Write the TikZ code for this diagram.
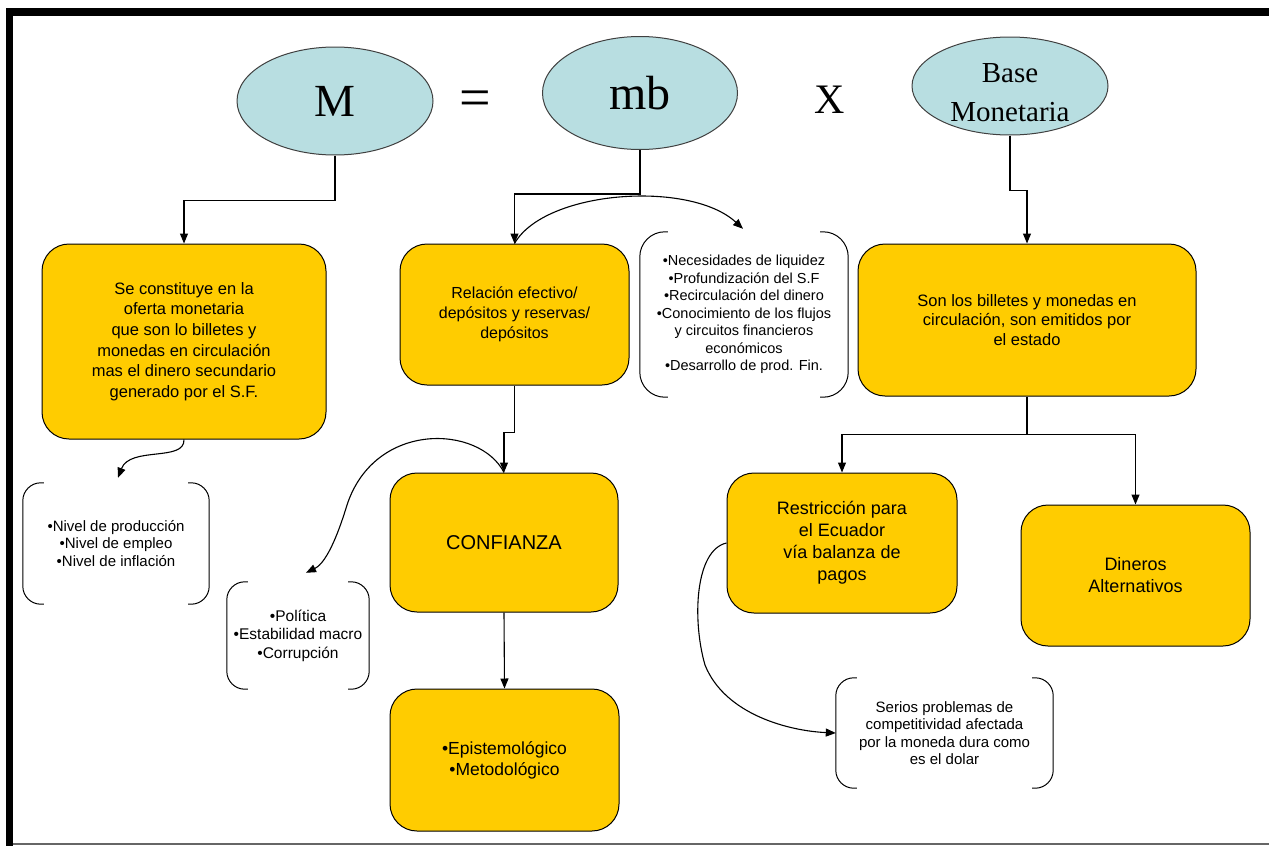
\documentclass[tikz,border=0pt]{standalone}
\usepackage{fontspec}
\setmainfont{Liberation Serif}
\newfontfamily\arial{Liberation Sans}
\usetikzlibrary{shapes.geometric,arrows.meta}
\definecolor{ovalfill}{RGB}{184,222,225}
\definecolor{boxfill}{RGB}{255,204,0}
\newcommand{\fs}[2]{\fontsize{#1}{#2}\selectfont}
\tikzset{
  oval/.style={ellipse, draw=black!75, fill=ovalfill, line width=1pt, inner sep=0pt, align=center},
  obox/.style={rectangle, rounded corners=27pt, draw=black, fill=boxfill, line width=1pt,
               align=center, inner sep=0pt, text=black},
  bracketbox/.style={rectangle, align=center, inner sep=0pt, text=black},
  brk/.style={line width=1pt, rounded corners=#1},
  brk/.default=18pt,
  conn/.style={line width=1.1pt},
  arr/.style={conn, -{Triangle[length=10pt,width=8pt]}},
  sym/.style={inner sep=0pt, align=center}
}
\newcommand{\brackets}[2]{%
  \draw[brk=#2] ([xshift=#2+3pt]#1.north west) -- (#1.north west) -- (#1.south west) -- ([xshift=#2+3pt]#1.south west);
  \draw[brk=#2] ([xshift=-#2-3pt]#1.north east) -- (#1.north east) -- (#1.south east) -- ([xshift=-#2-3pt]#1.south east);
}
\begin{document}
\begin{tikzpicture}[x=1pt,y=-1pt]
\useasboundingbox (0,0) rectangle (1269,846);
\fill[white] (0,0) rectangle (1269,846);
% frame
\fill[black] (6,8) rectangle (1269,16);
\fill[black] (6,8) rectangle (13,846);
\draw[black!60, line width=1.2pt] (13,844) -- (1269,844);

% equation ovals
\node[oval, minimum width=196pt, minimum height=108pt, font=\fs{46}{50}] (M) at (335,101) {M};
\node[sym, font=\fs{56}{60}] (eq) at (475,104) {=};
\node[oval, minimum width=195pt, minimum height=113pt, font=\fs{48}{52}] (mb) at (640,93) {mb};
\node[sym, font=\fs{42}{46}] (times) at (830,100) {X};
\node[oval, minimum width=196pt, minimum height=98pt] (base) at (1010,86) {};
\node[sym, font=\fs{29}{39}] (basetext) at (1010,93) {Base\\Monetaria};

% boxes
\node[obox, minimum width=284pt, minimum height=195pt, font=\arial\fs{16.5}{20.6}] (b1) at (184,341.5)
  {Se constituye en la\\oferta monetaria\\que son lo billetes y\\monedas en circulación\\mas el dinero secundario\\generado por el S.F.};
\node[obox, minimum width=229pt, minimum height=141pt, font=\arial\fs{16}{20}] (b2) at (514.5,314.5)
  {Relación efectivo/\\depósitos y reservas/\\depósitos};
\node[obox, minimum width=338pt, minimum height=152pt, font=\arial\fs{16.5}{19.5}] (b3) at (1027,320)
  {Son los billetes y monedas en\\circulación, son emitidos por\\el estado};
\node[obox, minimum width=228pt, minimum height=139pt, font=\arial\fs{20}{24}] (conf) at (504,542.5)
  {CONFIANZA};
\node[obox, minimum width=229pt, minimum height=142pt, font=\arial\fs{17.5}{21}] (epi) at (504.5,760)
  {•Epistemológico\\•Metodológico};
\node[obox, minimum width=230pt, minimum height=140pt, font=\arial\fs{18}{22}] (restr) at (842,543)
  {Restricción para\\el Ecuador\\vía balanza de\\pagos};
\node[obox, minimum width=229pt, minimum height=141pt, font=\arial\fs{18}{22}] (din) at (1135.5,575.5)
  {Dineros\\Alternativos};

% bracketed notes
\node[bracketbox, minimum width=208pt, minimum height=165pt, font=\arial\fs{14.5}{17.5}] (nec) at (744,314.5)
  {•Necesidades de liquidez\\•Profundización del S.F\\•Recirculación del dinero\\•Conocimiento de los flujos\\y circuitos financieros\\económicos\\•Desarrollo de prod. Fin.};
\brackets{nec}{25pt}
\node[bracketbox, minimum width=186pt, minimum height=121pt, font=\arial\fs{15}{17.5}] (niv) at (116,543.5)
  {•Nivel de producción\\•Nivel de empleo\\•Nivel de inflación};
\brackets{niv}{18pt}
\node[bracketbox, minimum width=142pt, minimum height=107pt, font=\arial\fs{15.5}{18.5}] (pol) at (298,635.5)
  {•Política\\•Estabilidad macro\\•Corrupción};
\brackets{pol}{18pt}
\node[bracketbox, minimum width=217pt, minimum height=110pt, font=\arial\fs{15}{17.5}] (ser) at (944.5,733)
  {Serios problemas de\\competitividad afectada\\por la moneda dura como\\es el dolar};
\brackets{ser}{18pt}

% connectors from the ovals
\draw[arr] (M.south) -- ++(0,45) -| (b1.north);
\draw[arr] (mb.south) -- ++(0,44) -| (b2.north);
\draw[arr] (base.south) -- ++(0,55) -| (b3.north);

% curved links
\draw[arr] (b2.north) .. controls (545,190) and (690,180) .. ([xshift=-1pt,yshift=3pt]nec.north);
\draw[arr] (b1.south) .. controls (185,462) and (130,446) .. ([xshift=2pt,yshift=5pt]niv.north);
\draw[arr] (conf.north) .. controls (480,425) and (375,420) .. (347,505)
  .. controls (340,528) and (328,562) .. ([xshift=8pt,yshift=9pt]pol.north);
\draw[arr] (restr.west) .. controls (695,550) and (692,620) .. (705,665)
  .. controls (725,715) and (790,731) .. (ser.west);

% straight links
\draw[arr] (b2.south) -- ++(0,47) -| (conf.north);
\draw[arr] (conf.south) -- (epi.north);
\draw[conn] (b3.south) -- ++(0,38) coordinate (split);
\draw[arr] (split) -| (restr.north);
\draw[arr] (split) -| (din.north);
\end{tikzpicture}
\end{document}
